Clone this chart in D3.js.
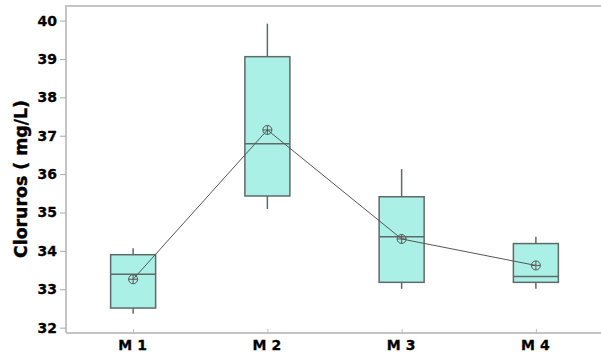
<!DOCTYPE html>
<html>
<head>
<meta charset="utf-8">
<script src="https://cdn.jsdelivr.net/npm/d3@7"></script>
<style>
  body { margin: 0; background: #fff; }
  svg { display: block; font-family: "DejaVu Sans", sans-serif; }
</style>
</head>
<body>
<div id="chart"></div>
<script>
const groups = ["M 1", "M 2", "M 3", "M 4"];
const whiskerLow = [32.36, 35.09, 33.01, 33.01];
const q1 = [32.51, 35.43, 33.18, 33.18];
const median = [33.39, 36.79, 34.37, 33.33];
const q3 = [33.9, 39.06, 35.41, 34.19];
const whiskerHigh = [34.07, 39.92, 36.13, 34.37];
const means = [33.26, 37.15, 34.31, 33.62];
const yTicks = [32, 33, 34, 35, 36, 37, 38, 39, 40];

(function() {
    const width = 601, height = 353;
    const plotLeft = 66, plotTop = 6, plotBottom = 333, plotRight = 603;

    const svg = d3.select("#chart").append("svg")
        .attr("width", width)
        .attr("height", height);

    const x = d3.scalePoint()
        .domain(groups)
        .range([plotLeft, plotRight])
        .padding(0.5);

    const y = d3.scaleLinear()
        .domain([31.86, 40.38])
        .range([plotBottom, plotTop]);

    // frame (right side falls outside the window)
    svg.append("path")
        .attr("d", `M${plotLeft},${plotBottom}V${plotTop}H${width}`)
        .attr("fill", "none")
        .attr("stroke", "#c4c4c4")
        .attr("stroke-width", 2);

    // y axis
    const yAxis = svg.append("g")
        .attr("transform", `translate(${plotLeft},0)`)
        .call(d3.axisLeft(y).tickValues(yTicks).tickSize(6).tickPadding(3).tickFormat(d3.format("d")));
    yAxis.select(".domain").remove();
    yAxis.selectAll(".tick line").attr("stroke", "#aaa");
    yAxis.selectAll(".tick text")
        .attr("fill", "#000")
        .attr("stroke", "#000")
        .attr("stroke-width", 0.3)
        .style("font-family", "'DejaVu Sans', sans-serif")
        .style("font-size", "14px")
        .style("font-weight", "bold");

    // x axis
    const xAxis = svg.append("g")
        .attr("transform", `translate(0,${plotBottom})`)
        .call(d3.axisBottom(x).tickSize(4).tickPadding(3));
    xAxis.select(".domain").attr("stroke", "#c4c4c4").attr("stroke-width", 2)
        .attr("d", `M${plotLeft},0H${width}`);
    xAxis.selectAll(".tick line").attr("stroke", "#bbb").attr("y1", -4).attr("y2", 0);
    xAxis.selectAll(".tick text")
        .attr("fill", "#000")
        .attr("stroke", "#000")
        .attr("stroke-width", 0.3)
        .style("font-family", "'DejaVu Sans', sans-serif")
        .style("font-size", "14px")
        .style("font-weight", "bold")
        .attr("dx", "-1px");

    // y label
    svg.append("text")
        .attr("transform", `translate(27,179) rotate(-90)`)
        .attr("text-anchor", "middle")
        .attr("textLength", 158)
        .attr("lengthAdjust", "spacingAndGlyphs")
        .attr("stroke", "#000")
        .attr("stroke-width", 0.4)
        .style("font-size", "17px")
        .style("font-weight", "bold")
        .text("Cloruros ( mg/L)");

    const boxW = 45;
    const stroke = "#5f6a68";

    const boxes = svg.append("g").selectAll("g")
        .data(groups)
        .join("g");

    boxes.append("line")
        .attr("x1", d => x(d)).attr("x2", d => x(d))
        .attr("y1", (d, i) => y(whiskerHigh[i]))
        .attr("y2", (d, i) => y(q3[i]))
        .attr("stroke", stroke).attr("stroke-width", 1.5);

    boxes.append("line")
        .attr("x1", d => x(d)).attr("x2", d => x(d))
        .attr("y1", (d, i) => y(q1[i]))
        .attr("y2", (d, i) => y(whiskerLow[i]))
        .attr("stroke", stroke).attr("stroke-width", 1.5);

    boxes.append("rect")
        .attr("x", d => x(d) - boxW / 2)
        .attr("width", boxW)
        .attr("y", (d, i) => y(q3[i]))
        .attr("height", (d, i) => y(q1[i]) - y(q3[i]))
        .attr("fill", "#aaf0e6")
        .attr("stroke", stroke)
        .attr("stroke-width", 1.5);

    boxes.append("line")
        .attr("x1", d => x(d) - boxW / 2).attr("x2", d => x(d) + boxW / 2)
        .attr("y1", (d, i) => y(median[i]))
        .attr("y2", (d, i) => y(median[i]))
        .attr("stroke", stroke).attr("stroke-width", 1.5);

    // mean connect line
    svg.append("path")
        .datum(groups)
        .attr("d", d3.line().x(d => x(d)).y((d, i) => y(means[i])))
        .attr("fill", "none")
        .attr("stroke", "#555")
        .attr("stroke-width", 1);

    // mean symbols: circle with cross
    const sym = svg.append("g").selectAll("g")
        .data(groups)
        .join("g")
        .attr("transform", (d, i) => `translate(${x(d)},${y(means[i])})`);
    sym.append("circle").attr("r", 4.5).attr("fill", "none").attr("stroke", "#555").attr("stroke-width", 1);
    sym.append("path").attr("d", "M-4.5,0H4.5M0,-4.5V4.5").attr("stroke", "#555").attr("stroke-width", 1);
})();
</script>
</body>
</html>
